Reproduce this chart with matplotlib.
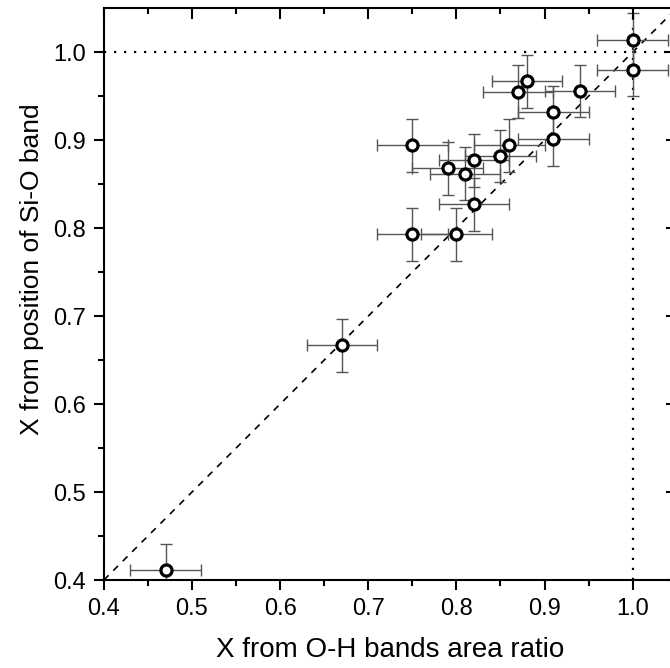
import matplotlib.pyplot as plt

plt.rcParams['font.family'] = ['Liberation Sans', 'DejaVu Sans']

# X from O-H bands area ratio / X from position of Si-O band
x_oh = [0.47, 0.67, 0.75, 0.75, 0.79, 0.80, 0.81, 0.82, 0.82,
        0.85, 0.86, 0.87, 0.88, 0.91, 0.91, 0.94, 1.00, 1.00]
x_sio = [0.411, 0.667, 0.793, 0.894, 0.868, 0.793, 0.862, 0.877, 0.827,
         0.882, 0.894, 0.955, 0.967, 0.932, 0.901, 0.956, 1.014, 0.980]
x_err = [0.04] * len(x_oh)
y_err = [0.03] * len(x_oh)

major = [0.4, 0.5, 0.6, 0.7, 0.8, 0.9, 1.0]
minor = [0.45, 0.55, 0.65, 0.75, 0.85, 0.95]

fig = plt.figure(figsize=(6.7, 6.68), dpi=100)
pos = [0.155, 0.1317, 0.855, 0.856]
ax = fig.add_axes(pos)

# reference lines
ax.plot([0.4, 1.05], [0.4, 1.05], color='black', linestyle=(0, (4, 4)), lw=1.2, zorder=1)
ax.axhline(1.0, color='black', linestyle=(0, (1, 3.5)), lw=1.6, zorder=1)
ax.axvline(1.0, color='black', linestyle=(0, (1, 3.5)), lw=1.6, zorder=1)

ax.errorbar(x_oh, x_sio, xerr=x_err, yerr=y_err, fmt='none',
            ecolor='#555555', elinewidth=1.0, capsize=4, capthick=1.0, zorder=2)
ax.plot(x_oh, x_sio, 'o', ms=8, mfc='white', mec='black', mew=2.3, zorder=3)

ax.set_xlim(0.4, 1.05)
ax.set_ylim(0.4, 1.05)
ax.set_xticks(major)
ax.set_yticks(major)
ax.set_xticks(minor, minor=True)
ax.set_yticks(minor, minor=True)

for s in ax.spines.values():
    s.set_linewidth(1.5)

ax.tick_params(axis='both', which='major', length=7, width=1.5, labelsize=17, pad=6, direction='out')
ax.tick_params(axis='both', which='minor', length=4, width=1.5, direction='out')

# overlay axes only for the inward ticks on top and right
ov = fig.add_axes(pos, frameon=False)
ov.set_xlim(0.4, 1.05)
ov.set_ylim(0.4, 1.05)
ov.set_xticks(major)
ov.set_yticks(major)
ov.set_xticks(minor, minor=True)
ov.set_yticks(minor, minor=True)
ov.tick_params(which='both', direction='in', width=1.5,
               bottom=False, left=False, top=True, right=True,
               labelbottom=False, labelleft=False)
ov.tick_params(which='major', length=8)
ov.tick_params(which='minor', length=4.5)
ov.patch.set_visible(False)

ax.set_xlabel('X from O-H bands area ratio', fontsize=20, labelpad=12)
ax.set_ylabel('X from position of Si-O band', fontsize=19, labelpad=9)
ax.yaxis.set_label_coords(-0.105, 0.544)

fig.savefig('out.png', dpi=100)
